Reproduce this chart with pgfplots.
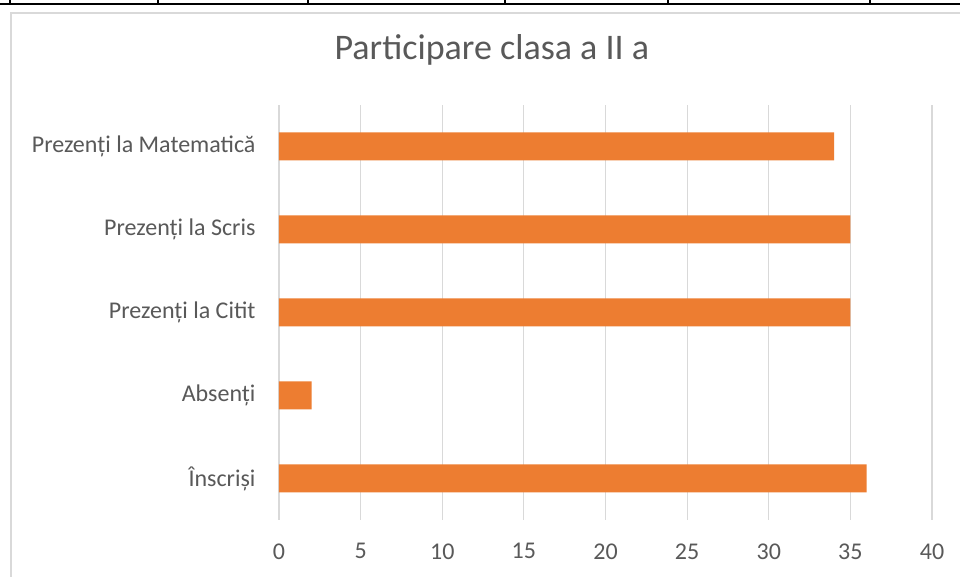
\documentclass[border=0pt]{standalone}
\usepackage{pgfplots}
\pgfplotsset{compat=1.18}
\usepackage{fontspec}
\setmainfont{Carlito}
\definecolor{barorange}{HTML}{ED7D31}
\definecolor{txtgray}{HTML}{595959}
\definecolor{gridgray}{HTML}{D9D9D9}
\begin{document}
\begin{tikzpicture}[x=1pt,y=1pt]
\begin{scope}[shift={(-279,-57)}]
\useasboundingbox (0,0) rectangle (960,577);
\fill[white] (0,0) rectangle (960,577);
% chart area border
\draw[gridgray, line width=2pt] (11,0) -- (11,564) -- (960,564);
% table lines above
\draw[black, line width=1.5pt] (0,573) -- (960,573);
\foreach \xx in {10,158,308,505,668,870} \draw[black, line width=1.2pt] (\xx,573) -- (\xx,577);
\end{scope}
\begin{axis}[
  scale only axis, width=653pt, height=415pt,
  xbar, bar width=28pt,
  xmin=0, xmax=40, ymin=-0.5, ymax=4.5,
  xtick={0,5,...,40},
  ytick={0,1,2,3,4},
  yticklabels={Înscriși, Absenți, Prezenți la Citit, Prezenți la Scris, Prezenți la Matematică},
  xmajorgrids, grid style={gridgray, line width=1.2pt},
  axis line style={draw=none},
  major tick length=0pt,
  tick label style={text=txtgray, font=\fontsize{24}{28}\selectfont},
  yticklabel style={xshift=-20pt},
  xticklabel style={yshift=-20pt},
  /pgf/number format/assume math mode=true,
  title={Participare clasa a II a},
  title style={text=txtgray, font=\fontsize{36}{40}\selectfont, at={(axis description cs:0.326,1)}, anchor=center, yshift=49pt},
]
\addplot[fill=barorange, draw=none] coordinates {(36,0) (2,1) (35,2) (35,3) (34,4)};
\end{axis}
\end{tikzpicture}
\end{document}
